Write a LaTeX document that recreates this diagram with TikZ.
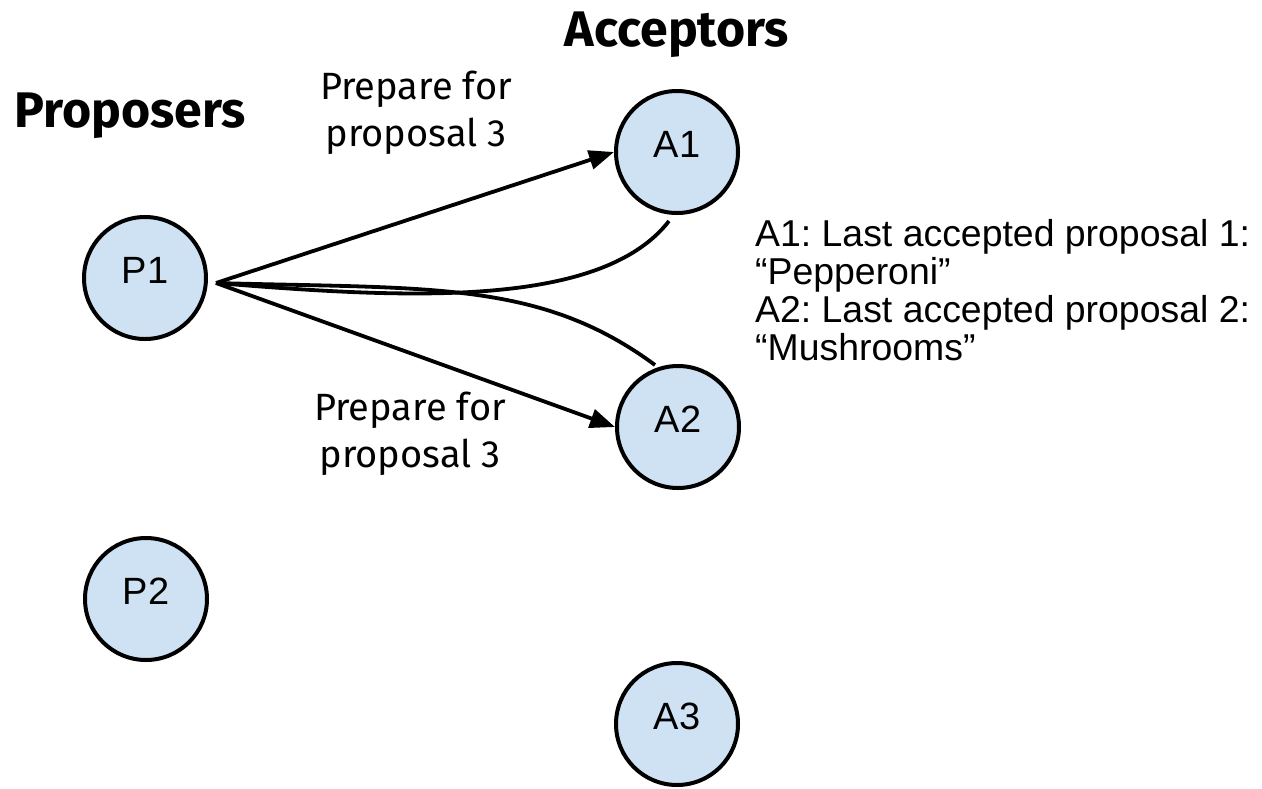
\documentclass[tikz,border=0pt]{standalone}
\usepackage{fontspec}
\setmainfont{Liberation Sans}
\newfontfamily\headfont{Fira Sans}
\usetikzlibrary{arrows.meta,calc}
\definecolor{nodeblue}{HTML}{CFE2F3}

\begin{document}
\frenchspacing
\begin{tikzpicture}[x=1pt,y=-1pt,
  party/.style={circle, draw=black, line width=4pt, fill=nodeblue,
    minimum size=122pt, inner sep=0pt, text depth=16pt,
    font=\fontsize{38}{38}\selectfont},
  msg/.style={line width=3.8pt, -{Triangle[length=25pt,width=19pt]}},
  reply/.style={line width=3.8pt},
  grouptitle/.style={font=\headfont\bfseries\fontsize{50}{50}\selectfont},
  msglabel/.style={font=\headfont\fontsize{38}{47}\selectfont, align=center},
  statenote/.style={font=\fontsize{37.4}{38}\selectfont, align=left,
    inner sep=0pt, anchor=north west},
]
\useasboundingbox (0,0) rectangle (1262,788);

% column headings
\node[grouptitle, anchor=base] (hacc) at (677,46) {Acceptors};
\node[grouptitle, anchor=base] (hprop) at (130,127) {Proposers};

% proposers and acceptors
\node[party] (P1) at (145,278) {P1};
\node[party] (P2) at (146,599) {P2};
\node[party] (A1) at (677,152) {A1};
\node[party] (A2) at (678,427) {A2};
\node[party] (A3) at (677,724) {A3};

% shared start point of the messages and free ends of the replies
\coordinate (src) at ($(P1.east)+(8,5)$);
\coordinate (r1) at ($(A1)+(-8,69)$);
\coordinate (r2) at ($(A2)+(-23,-62)$);

% prepare requests
\draw[msg] (src) -- (A1.west);
\draw[msg] (src) -- (A2.west);

% promises coming back
\draw[reply] (src) .. controls (400,298) and (600,310) .. (r1);
\draw[reply] (src) .. controls (430,289) and (540,280) .. (r2);

% message labels
\node[msglabel] (l1) at (416,113) {Prepare for\\proposal 3};
\node[msglabel] (l2) at (410,434) {Prepare for\\proposal 3};

% acceptor state
\node[statenote] (state) at (755,219) {A1: Last accepted proposal 1:\\“Pepperoni”\\A2: Last accepted proposal 2:\\“Mushrooms”};
\end{tikzpicture}
\end{document}
